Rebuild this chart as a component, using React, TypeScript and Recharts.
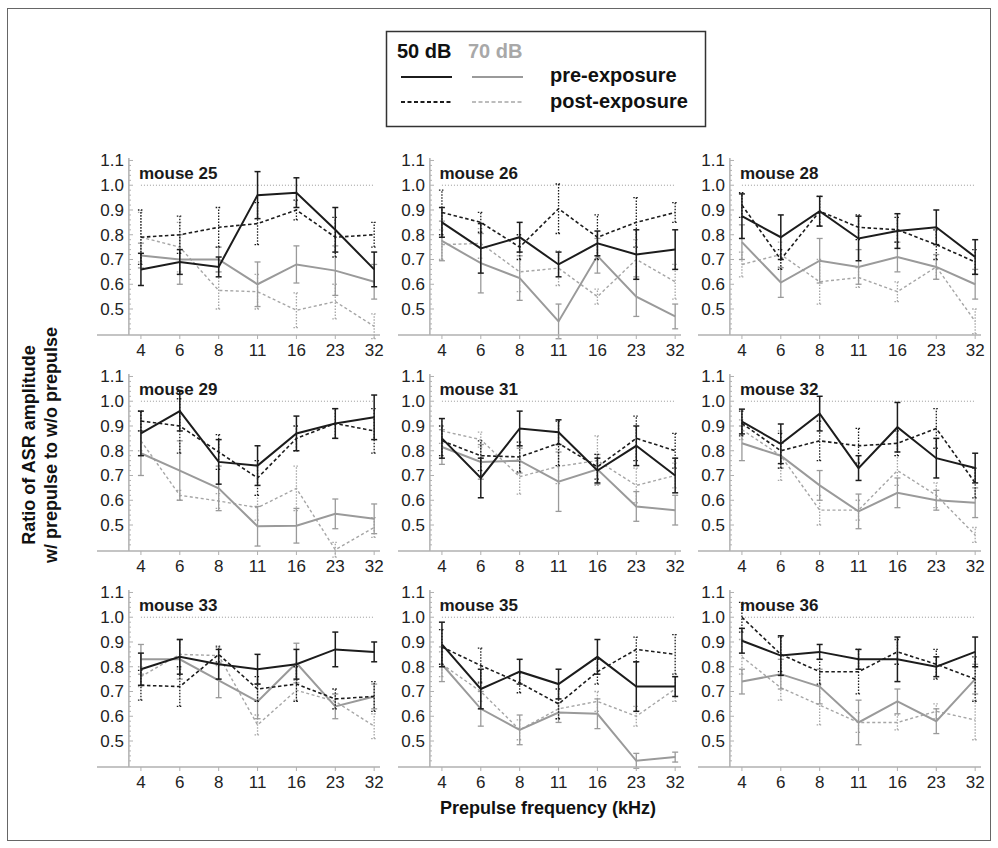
import React from 'react';
import { LineChart, Line, XAxis, YAxis, ErrorBar, ReferenceLine } from 'recharts';

const freqLabels = ['4', '6', '8', '11', '16', '23', '32'];
const mouseLabels = ['mouse 25', 'mouse 26', 'mouse 28', 'mouse 29', 'mouse 31', 'mouse 32', 'mouse 33', 'mouse 35', 'mouse 36'];
const yTicks = [0.5, 0.6, 0.7, 0.8, 0.9, 1.0, 1.1];

// 50 dB pre-exposure (black solid)
const pre50 = [
  [0.66, 0.69, 0.67, 0.96, 0.97, 0.82, 0.66],
  [0.85, 0.745, 0.79, 0.68, 0.765, 0.72, 0.74],
  [0.875, 0.79, 0.895, 0.785, 0.815, 0.83, 0.71],
  [0.87, 0.96, 0.755, 0.74, 0.87, 0.91, 0.935],
  [0.85, 0.69, 0.89, 0.875, 0.72, 0.82, 0.70],
  [0.918, 0.828, 0.95, 0.73, 0.895, 0.77, 0.73],
  [0.79, 0.84, 0.81, 0.79, 0.81, 0.87, 0.86],
  [0.89, 0.71, 0.78, 0.73, 0.84, 0.72, 0.72],
  [0.905, 0.845, 0.86, 0.83, 0.83, 0.80, 0.86],
];
const pre50Err = [
  [0.065, 0.05, 0.04, 0.095, 0.06, 0.09, 0.07],
  [0.06, 0.10, 0.06, 0.05, 0.05, 0.10, 0.08],
  [0.09, 0.09, 0.06, 0.09, 0.07, 0.07, 0.07],
  [0.09, 0.08, 0.09, 0.08, 0.07, 0.06, 0.09],
  [0.08, 0.08, 0.07, 0.05, 0.05, 0.08, 0.07],
  [0.05, 0.08, 0.07, 0.05, 0.10, 0.08, 0.06],
  [0.065, 0.07, 0.06, 0.06, 0.06, 0.07, 0.04],
  [0.09, 0.08, 0.05, 0.06, 0.07, 0.10, 0.04],
  [0.05, 0.08, 0.03, 0.04, 0.09, 0.04, 0.06],
];

// 50 dB post-exposure (black dashed)
const post50 = [
  [0.79, 0.80, 0.83, 0.845, 0.90, 0.79, 0.80],
  [0.89, 0.85, 0.75, 0.905, 0.79, 0.85, 0.89],
  [0.92, 0.70, 0.895, 0.83, 0.82, 0.76, 0.69],
  [0.92, 0.90, 0.795, 0.69, 0.85, 0.91, 0.88],
  [0.84, 0.78, 0.775, 0.83, 0.735, 0.85, 0.80],
  [0.91, 0.80, 0.84, 0.82, 0.83, 0.89, 0.67],
  [0.725, 0.72, 0.85, 0.71, 0.73, 0.67, 0.68],
  [0.88, 0.805, 0.735, 0.65, 0.78, 0.87, 0.85],
  [1.0, 0.85, 0.78, 0.78, 0.86, 0.81, 0.75],
];
const post50Err = [
  [0.11, 0.075, 0.08, 0.085, 0.04, 0.08, 0.05],
  [0.09, 0.04, 0.05, 0.10, 0.09, 0.10, 0.04],
  [0.05, 0.04, 0.06, 0.05, 0.05, 0.06, 0.05],
  [0.04, 0.11, 0.07, 0.07, 0.05, 0.06, 0.09],
  [0.06, 0.06, 0.06, 0.09, 0.05, 0.09, 0.07],
  [0.05, 0.07, 0.08, 0.07, 0.05, 0.08, 0.06],
  [0.06, 0.08, 0.03, 0.05, 0.07, 0.04, 0.06],
  [0.07, 0.07, 0.04, 0.06, 0.05, 0.05, 0.08],
  [0.06, 0.07, 0.05, 0.09, 0.05, 0.06, 0.09],
];

// 70 dB pre-exposure (gray solid)
const pre70 = [
  [0.716, 0.70, 0.70, 0.60, 0.68, 0.655, 0.61],
  [0.775, 0.685, 0.625, 0.45, 0.715, 0.55, 0.47],
  [0.77, 0.607, 0.695, 0.67, 0.71, 0.67, 0.60],
  [0.79, 0.72, 0.648, 0.495, 0.497, 0.545, 0.525],
  [0.815, 0.755, 0.76, 0.675, 0.725, 0.575, 0.56],
  [0.83, 0.78, 0.66, 0.555, 0.63, 0.60, 0.59],
  [0.83, 0.83, 0.745, 0.66, 0.815, 0.64, 0.68],
  [0.81, 0.63, 0.545, 0.615, 0.61, 0.42, 0.435],
  [0.74, 0.77, 0.72, 0.575, 0.66, 0.58, 0.75],
];
const pre70Err = [
  [0.05, 0.10, 0.05, 0.09, 0.075, 0.10, 0.07],
  [0.08, 0.12, 0.09, 0.07, 0.07, 0.08, 0.05],
  [0.07, 0.06, 0.09, 0.07, 0.06, 0.05, 0.06],
  [0.09, 0.12, 0.09, 0.08, 0.07, 0.06, 0.06],
  [0.07, 0.07, 0.05, 0.12, 0.06, 0.06, 0.06],
  [0.07, 0.05, 0.06, 0.07, 0.06, 0.04, 0.06],
  [0.06, 0.08, 0.07, 0.07, 0.08, 0.05, 0.05],
  [0.07, 0.07, 0.06, 0.04, 0.06, 0.03, 0.02],
  [0.05, 0.06, 0.07, 0.09, 0.05, 0.05, 0.06],
];

// 70 dB post-exposure (gray dashed)
const post70 = [
  [0.79, 0.75, 0.575, 0.57, 0.495, 0.53, 0.43],
  [0.76, 0.765, 0.65, 0.665, 0.55, 0.70, 0.61],
  [0.68, 0.72, 0.61, 0.627, 0.57, 0.67, 0.45],
  [0.84, 0.62, 0.597, 0.57, 0.648, 0.40, 0.49],
  [0.88, 0.845, 0.695, 0.737, 0.76, 0.66, 0.70],
  [0.885, 0.78, 0.56, 0.56, 0.72, 0.62, 0.46],
  [0.76, 0.85, 0.845, 0.565, 0.705, 0.66, 0.56],
  [0.81, 0.70, 0.545, 0.63, 0.66, 0.60, 0.71],
  [0.84, 0.715, 0.645, 0.575, 0.575, 0.62, 0.585],
];
const post70Err = [
  [0.10, 0.10, 0.075, 0.07, 0.07, 0.07, 0.05],
  [0.06, 0.06, 0.08, 0.07, 0.03, 0.08, 0.07],
  [0.05, 0.05, 0.09, 0.04, 0.04, 0.05, 0.05],
  [0.04, 0.02, 0.03, 0.05, 0.09, 0.03, 0.04],
  [0.05, 0.03, 0.07, 0.07, 0.10, 0.07, 0.05],
  [0.04, 0.10, 0.06, 0.04, 0.06, 0.05, 0.03],
  [0.04, 0.06, 0.04, 0.04, 0.04, 0.03, 0.05],
  [0.05, 0.04, 0.04, 0.04, 0.04, 0.04, 0.05],
  [0.07, 0.05, 0.08, 0.04, 0.03, 0.03, 0.08],
];

const FONT = '"Liberation Sans", Arial, Helvetica, sans-serif';
const BLACK = '#1c1c1c';
const GRAY = '#9a9a9a';
const GRAY_D = '#a6a6a6';
const AXIS = '#b0b0b0';

const PLOT_W = 283;
const PLOT_H = 177;
const ML = 40;
const MT = 12;
const MR = 12;
const XH = 32;
const YAXIS_X = ML + 32; // y axis line position in chart coords

const YTick = (props: any) => {
  const { y, payload } = props;
  const minors = [1, 2, 3, 4];
  return (
    <g>
      <text x={YAXIS_X - 5} y={y} dy={6} textAnchor="end" fontSize={17} fill="#222" fontFamily={FONT}>
        {Number(payload.value).toFixed(1)}
      </text>
      <line x1={YAXIS_X} x2={YAXIS_X + 4} y1={y} y2={y} stroke={AXIS} strokeWidth={1} />
      {minors.map((k) => (
        <line key={k} x1={YAXIS_X} x2={YAXIS_X + 2} y1={y + k * 4.96} y2={y + k * 4.96} stroke={AXIS} strokeWidth={1} />
      ))}
    </g>
  );
};

function Panel({ idx }: { idx: number }) {
  const col = idx % 3;
  const row = Math.floor(idx / 3);
  const plotLeft = 97 + 300.5 * col;
  const plotTop = 158 + 216 * row;
  const data = freqLabels.map((f, i) => ({
    x: i,
    pre50: pre50[idx][i],
    pre50e: pre50Err[idx][i],
    post50: post50[idx][i],
    post50e: post50Err[idx][i],
    pre70: pre70[idx][i],
    pre70e: pre70Err[idx][i],
    post70: post70[idx][i],
    post70e: post70Err[idx][i],
  }));
  return (
    <div style={{ position: 'absolute', left: plotLeft - ML, top: plotTop - MT }}>
      <LineChart
        width={ML + PLOT_W + MR}
        height={MT + PLOT_H + XH}
        data={data}
        margin={{ top: MT, right: MR, left: 0, bottom: 0 }}
      >
        <XAxis
          type="number"
          dataKey="x"
          domain={[-1.13, 6.15]}
          allowDataOverflow
          ticks={[0, 1, 2, 3, 4, 5, 6]}
          interval={0}
          tickFormatter={(v: number) => freqLabels[v]}
          height={XH}
          axisLine={{ stroke: AXIS, strokeWidth: 1.5 }}
          tickLine={{ stroke: AXIS }}
          tickSize={4}
          tickMargin={5}
          tick={{ fill: '#222', fontSize: 17, fontFamily: FONT }}
        />
        <YAxis
          type="number"
          domain={[0.395, 1.11]}
          allowDataOverflow
          width={ML}
          ticks={yTicks}
          interval={0}
          axisLine={false}
          tickLine={false}
          tick={<YTick />}
        />
        <ReferenceLine x={-0.31} stroke={AXIS} strokeWidth={1.5} />
        <ReferenceLine
          segment={[{ x: 0, y: 1 }, { x: 6, y: 1 }]}
          stroke="#9a9a9a"
          strokeDasharray="1 2"
          strokeWidth={1}
        />
        <Line dataKey="post70" stroke={GRAY_D} strokeWidth={1.4} strokeDasharray="3 2.5" dot={false} isAnimationActive={false}>
          <ErrorBar dataKey="post70e" direction="y" width={3} stroke={GRAY_D} strokeWidth={1.3} strokeDasharray="1.5 1.5" />
        </Line>
        <Line dataKey="pre70" stroke={GRAY} strokeWidth={2} dot={false} isAnimationActive={false}>
          <ErrorBar dataKey="pre70e" direction="y" width={3} stroke={GRAY} strokeWidth={1.3} />
        </Line>
        <Line dataKey="post50" stroke={BLACK} strokeWidth={1.6} strokeDasharray="3.5 2.5" dot={false} isAnimationActive={false}>
          <ErrorBar dataKey="post50e" direction="y" width={3} stroke={BLACK} strokeWidth={1.3} strokeDasharray="1.5 1.5" />
        </Line>
        <Line dataKey="pre50" stroke={BLACK} strokeWidth={2} dot={false} isAnimationActive={false}>
          <ErrorBar dataKey="pre50e" direction="y" width={3} stroke={BLACK} strokeWidth={1.5} />
        </Line>
      </LineChart>
    </div>
  );
}

export default function App() {
  return (
    <div style={{ position: 'absolute', left: 0, top: 0, width: 998, height: 848, background: '#fff', fontFamily: FONT }}>
      <div style={{ position: 'absolute', left: 7, top: 8, width: 982, height: 831, border: '1px solid #666' }} />
      {mouseLabels.map((m, i) => (
        <Panel key={m} idx={i} />
      ))}
      <svg
        width={998}
        height={848}
        style={{ position: 'absolute', left: 0, top: 0, pointerEvents: 'none' }}
        fontFamily={FONT}
      >
        {mouseLabels.map((m, i) => (
          <text
            key={m}
            x={139 + 300.5 * (i % 3)}
            y={179 + 216 * Math.floor(i / 3)}
            fontSize={17}
            fontWeight="bold"
            fill="#1a1a1a"
          >
            {m}
          </text>
        ))}
        {/* legend */}
        <rect x={386.5} y={31.5} width={319} height={95} fill="#fff" stroke="#333" strokeWidth={1.5} />
        <text x={397} y={58} fontSize={20} fontWeight="bold" fill="#111">50 dB</text>
        <text x={468} y={58} fontSize={20} fontWeight="bold" fill="#a8a8a8">70 dB</text>
        <line x1={401} x2={452} y1={77} y2={77} stroke={BLACK} strokeWidth={2} />
        <line x1={472} x2={523} y1={77} y2={77} stroke={GRAY} strokeWidth={2} />
        <line x1={401} x2={452} y1={102} y2={102} stroke={BLACK} strokeWidth={2} strokeDasharray="4 2.5" />
        <line x1={472} x2={523} y1={102} y2={102} stroke={GRAY_D} strokeWidth={1.5} strokeDasharray="4 2.5" />
        <text x={550} y={82} fontSize={20} fontWeight="bold" fill="#111">pre-exposure</text>
        <text x={550} y={108} fontSize={20} fontWeight="bold" fill="#111">post-exposure</text>
        {/* axis titles */}
        <text x={548} y={814} textAnchor="middle" fontSize={18} fontWeight="bold" fill="#111">
          Prepulse frequency (kHz)
        </text>
        <text x={35} y={445} textAnchor="middle" fontSize={18} fontWeight="bold" fill="#111" transform="rotate(-90 35 445)">
          Ratio of ASR amplitude
        </text>
        <text x={57} y={445} textAnchor="middle" fontSize={18} fontWeight="bold" fill="#111" transform="rotate(-90 57 445)">
          w/ prepulse to w/o prepulse
        </text>
      </svg>
    </div>
  );
}
